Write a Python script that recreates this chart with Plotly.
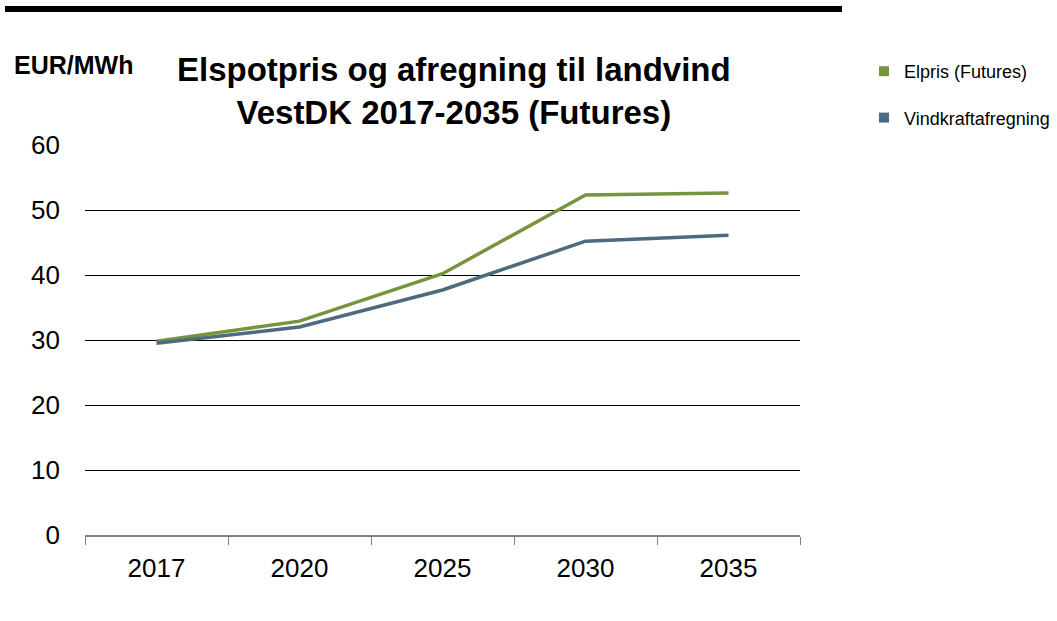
import plotly.graph_objects as go

# Data
years = ["2017", "2020", "2025", "2030", "2035"]
elpris = [29.8, 32.9, 40.2, 52.3, 52.6]
vindkraft = [29.5, 32.0, 37.7, 45.2, 46.1]

series_names = ["Elpris (Futures)", "Vindkraftafregning"]
colors = ["#77933C", "#4E6A7F"]

W, H = 1057, 621
L, R, T, B = 85, 800, 145, 535  # plot area in pixels


def px(x):
    return (x - L) / (R - L)


def py(y):
    return (B - y) / (B - T)


FONT = "Arial, Liberation Sans, sans-serif"

fig = go.Figure()

for name, vals, col in zip(series_names, [elpris, vindkraft], colors):
    fig.add_trace(go.Scatter(
        x=years, y=vals, mode="lines", name=name,
        line=dict(color=col, width=3.5), showlegend=False,
        hoverinfo="x+y",
    ))

# Legend entries with square swatches
for i, (name, col) in enumerate(zip(series_names, colors)):
    fig.add_trace(go.Scatter(
        x=[None], y=[None], mode="markers", name=name,
        marker=dict(symbol="square", size=10, color=col),
        legendgroup=f"g{i}", showlegend=True,
    ))

fig.update_layout(
    width=W, height=H,
    margin=dict(l=L, r=W - R, t=T, b=H - B, pad=0, autoexpand=False),
    paper_bgcolor="white", plot_bgcolor="white",
    font=dict(family=FONT, color="black"),
    showlegend=True,
    legend=dict(
        xref="container", yref="container",
        x=864 / W, xanchor="left", y=1 - 53 / H, yanchor="top",
        font=dict(size=18, family=FONT, color="black"),
        tracegroupgap=20, itemwidth=30, bgcolor="rgba(0,0,0,0)",
    ),
    xaxis=dict(
        type="category", range=[-0.5, 4.5],
        showgrid=False, zeroline=False,
        showline=True, linecolor="#808080", linewidth=1.5,
        ticks="outside", tickson="boundaries", ticklen=8,
        tickcolor="#808080", tickwidth=1,
        tickfont=dict(size=26, family=FONT, color="black"),
        ticklabelstandoff=9,
        fixedrange=True,
    ),
    yaxis=dict(
        range=[0, 60], dtick=10, tick0=0,
        showgrid=True, gridcolor="black", gridwidth=1,
        zeroline=False, showline=False, ticks="",
        tickfont=dict(size=26, family=FONT, color="black"),
        ticklabelstandoff=24,
        fixedrange=True,
    ),
    annotations=[
        dict(
            text="<b>Elspotpris og afregning til landvind<br>VestDK 2017-2035 (Futures)</b>",
            xref="paper", yref="paper", x=px(454), y=py(91),
            xanchor="center", yanchor="middle", showarrow=False,
            font=dict(size=33, family=FONT, color="black"),
        ),
        dict(
            text="<b>EUR/MWh</b>",
            xref="paper", yref="paper", x=px(12), y=py(65),
            xanchor="left", yanchor="middle", showarrow=False,
            font=dict(size=25, family=FONT, color="black"),
        ),
    ],
    shapes=[
        dict(type="rect", xref="paper", yref="paper",
             x0=px(5), x1=px(842), y0=py(12), y1=py(6),
             fillcolor="black", line=dict(width=0), layer="above"),
    ],
)

fig.write_html("out.html")
